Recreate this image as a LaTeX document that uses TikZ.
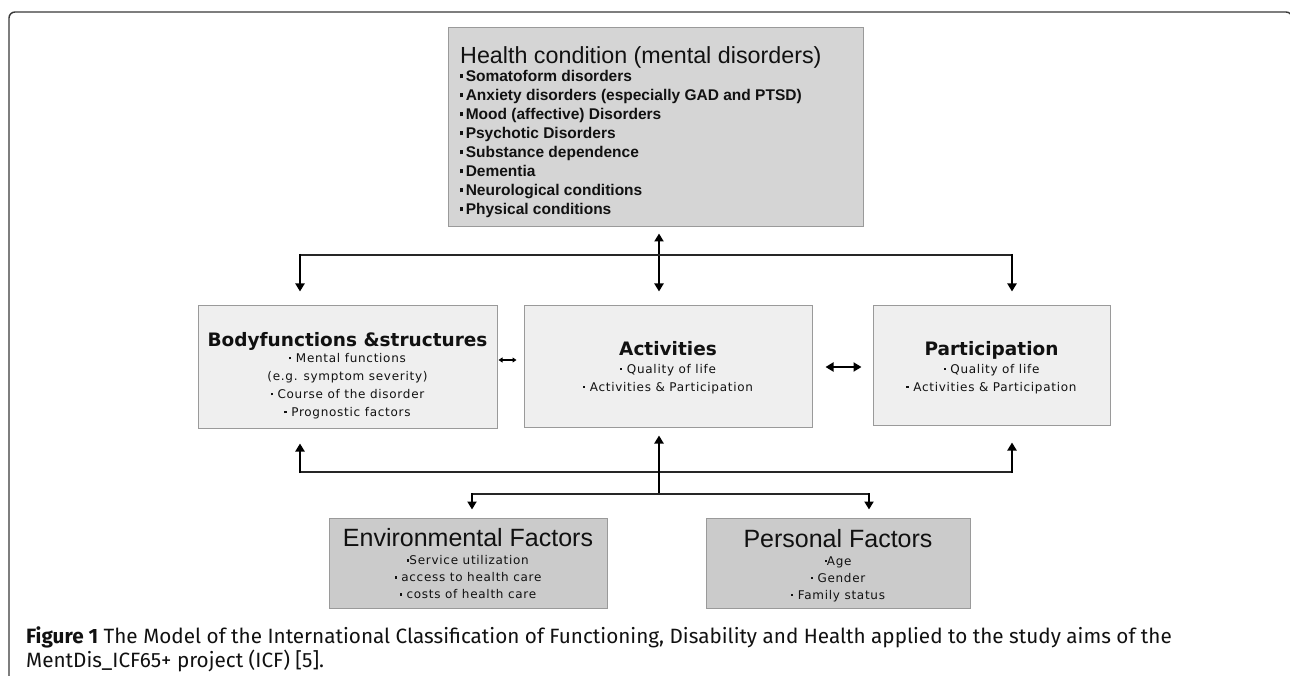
\documentclass[tikz,border=0pt]{standalone}
\usepackage{fontspec}
\setmainfont{Liberation Sans}
\usetikzlibrary{arrows.meta}
\newfontfamily\hfont{Liberation Sans}
\newfontfamily\vfont{DejaVu Sans}
\newfontfamily\subfont[LetterSpace=6]{DejaVu Sans}
\newfontfamily\capfont{Fira Sans}
\definecolor{hcfill}{HTML}{D5D5D5}
\definecolor{midfill}{HTML}{EFEFEF}
\definecolor{lowfill}{HTML}{CBCBCB}
\definecolor{boxline}{HTML}{9A9A9A}
\definecolor{framecol}{HTML}{3A3A3A}
\definecolor{txt}{HTML}{111111}
\newcommand\hsq{\rule[2.6pt]{3pt}{4pt}\,}
\newcommand\ssq{\rule[3.3pt]{2.3pt}{2.3pt}}
\begin{document}
\begin{tikzpicture}[x=1pt,y=-1pt,
  boxbase/.style={draw=boxline, line width=1pt, inner sep=0pt, rectangle},
  hcbox/.style={boxbase, fill=hcfill},
  midbox/.style={boxbase, fill=midfill},
  lowbox/.style={boxbase, fill=lowfill},
  boxtext/.style={inner sep=0pt, align=center, text=txt},
  subtext/.style={boxtext, font=\subfont\fontsize{12}{18}\selectfont},
  lowtext/.style={boxtext, font=\subfont\fontsize{12}{17}\selectfont},
  conn/.style={line width=2.8pt, draw=black},
  hline/.style={line width=2.2pt, draw=black!85},
  tip/.style={-{Triangle[length=8pt,width=9pt]}},
  twotip/.style={{Triangle[length=8pt,width=9pt]}-{Triangle[length=8pt,width=9pt]}},
  smalltwotip/.style={{Triangle[length=4pt,width=5pt]}-{Triangle[length=4pt,width=5pt]}},
  frameline/.style={line width=1.4pt, draw=framecol, rounded corners=6pt}
]
\useasboundingbox (0,0) rectangle (1290,676);
\clip (0,0) rectangle (1290,676);
\fill[white] (0,0) rectangle (1290,676);
\draw[frameline] (9,720) -- (9,12) -- (1292,12) -- (1292,720);

% boxes
\node[hcbox, minimum width=415pt, minimum height=199pt] (health) at (655.5,127.5) {};
\node[midbox, minimum width=299pt, minimum height=123pt] (body) at (347.5,366.5) {};
\node[midbox, minimum width=288pt, minimum height=122pt] (act) at (668,366) {};
\node[midbox, minimum width=237pt, minimum height=120pt] (part) at (991.5,365) {};
\node[lowbox, minimum width=278pt, minimum height=90pt] (env) at (468,563) {};
\node[lowbox, minimum width=264pt, minimum height=90pt] (pers) at (838,563) {};

% texts
\node[inner sep=0pt, anchor=north west, align=left, text=txt,
      font=\hfont\bfseries\fontsize{15.5}{19}\selectfont] (healtht) at (460,46.5)
  {{\mdseries\fontsize{23.3}{19}\selectfont Health condition (mental disorders)}\\[-1.5pt]
   \hsq Somatoform disorders\\
   \hsq Anxiety disorders (especially GAD and PTSD)\\
   \hsq Mood (affective) Disorders\\
   \hsq Psychotic Disorders\\
   \hsq Substance dependence\\
   \hsq Dementia\\
   \hsq Neurological conditions\\
   \hsq Physical conditions};

\node[subtext] (bodyt) at (347.5,376)
  {{\vfont\bfseries\fontsize{18.5}{18}\selectfont Bodyfunctions \&structures}\\[-2pt]
   \ssq\ Mental functions\\
   (e.g. symptom severity)\\
   \ssq\ Course of the disorder\\
   \ssq\ Prognostic factors};

\node[subtext] (actt) at (668,367.5)
  {{\vfont\bfseries\fontsize{18.5}{18}\selectfont Activities}\\
   \ssq\ Quality of life\\
   \ssq\ Activities \& Participation};

\node[subtext] (partt) at (991.5,367.5)
  {{\vfont\bfseries\fontsize{18.5}{18}\selectfont Participation}\\
   \ssq\ Quality of life\\
   \ssq\ Activities \& Participation};

\node[lowtext] (envt) at (468,564)
  {{\hfont\fontsize{25}{17}\selectfont Environmental Factors}\\[1pt]
   \ssq Service utilization\\
   \ssq\ access to health care\\
   \ssq\ costs of health care};

\node[lowtext] (perst) at (838,565.3)
  {{\hfont\fontsize{25}{17}\selectfont Personal Factors}\\[1pt]
   \ssq Age\\
   \ssq\ Gender\\
   \ssq\ Family status};

% junction coordinates
\coordinate (jt) at (659,255);
\coordinate (tl) at (300,255);
\coordinate (tr) at (1012,255);
\coordinate (bl) at (300,472);
\coordinate (br) at (1012,472);
\coordinate (bj) at (659,494);
\coordinate (el) at (472,494);
\coordinate (pr) at (869,494);

% top connectors
\draw[conn, twotip, shorten <=6pt, shorten >=13pt] (health.south -| jt) -- (act.north -| jt);
\draw[hline] (tl) -- (tr);
\draw[conn, tip, shorten >=13pt] ([yshift=1pt]tl) -- (tl |- body.north);
\draw[conn, tip, shorten >=13pt] ([yshift=1pt]tr) -- (tr |- part.north);

% horizontal double arrows
\draw[line width=2pt, smalltwotip, shorten <=1pt, shorten >=7pt] ([yshift=6.5pt]body.east) -- ([yshift=6.5pt]body.east -| act.west);
\draw[line width=2.4pt, twotip, shorten <=13pt, shorten >=11pt] ([yshift=-1pt]act.east) -- ([yshift=-1pt]act.east -| part.west);

% bottom connectors
\draw[hline] (bl) -- (br);
\draw[conn, tip, shorten >=15pt] ([yshift=-1pt]bl) -- (bl |- body.south);
\draw[conn, tip, shorten >=17pt] ([yshift=-1pt]br) -- (br |- part.south);
\draw[conn, tip, shorten >=8pt] (bj) -- (act.south -| bj);
\draw[hline] (el) -- (pr);
\draw[conn, tip, shorten >=8pt] ([yshift=1pt]el) -- (el |- env.north);
\draw[conn, tip, shorten >=8pt] ([yshift=1pt]pr) -- (pr |- pers.north);

% caption
\node[anchor=north west, inner sep=0pt, align=left, text=txt,
      font=\capfont\fontsize{20.7}{17.5}\selectfont] (caption) at (26,627)
  {\textbf{Figure 1} The Model of the International Classification of Functioning, Disability and Health applied to the study aims of the\\
   MentDis\_ICF65+ project (ICF) [5].};
\end{tikzpicture}
\end{document}
